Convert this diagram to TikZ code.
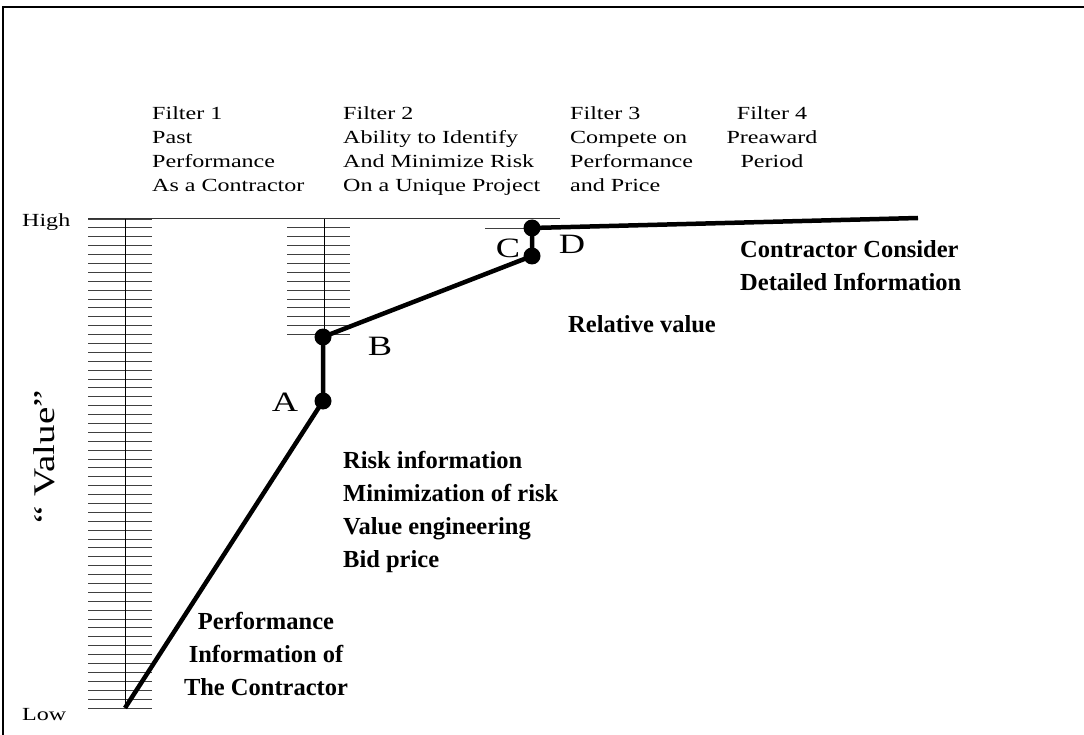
\documentclass[tikz,border=0pt]{standalone}
\usepackage{fontspec}
\setmainfont{Liberation Serif}
\newfontfamily\widefont[FakeStretch=1.3]{Liberation Serif}
\usepackage{tikz}

\begin{document}
\begin{tikzpicture}[x=1pt,y=-1pt,
    hatch/.style={black!75, line width=0.9pt},
    curve/.style={line width=4.5pt, line join=round},
    dot/.style={circle, fill, inner sep=0pt, minimum size=17pt},
    filtertext/.style={inner sep=0pt, align=left, anchor=north west, font=\widefont\fontsize{18.5}{24}\selectfont},
    boldtext/.style={inner sep=0pt, align=left, anchor=north west, font=\bfseries\fontsize{24.5}{33}\selectfont},
    pointlabel/.style={inner sep=0pt, font=\widefont\fontsize{28}{30}\selectfont}]
          \useasboundingbox (0,0) rectangle (1084,735);
          \draw[line width=2pt] (3,735) -- (3,7) -- (1084,7);
          % value scales
          \foreach \k in {0,...,55}
                \draw[hatch] (88,{219+8.89*\k}) -- (152,{219+8.89*\k});
          \foreach \k in {1,...,13}
                \draw[hatch] (287,{219+8.89*\k}) -- (350,{219+8.89*\k});
          \draw[hatch] (485,228) -- (532,228);
          \draw[black!80, line width=1pt] (88,219) -- (560,219);
          \draw[black, line width=1pt] (125,219) -- (125,708)
                (324,219) -- (324,337);
          \node[filtertext] (high) at (22,213) {High};
          \node[filtertext] (low) at (22,708) {Low};
          \node[pointlabel, rotate=90, font=\widefont\fontsize{30}{32}\selectfont] (value) at (44,457) {“ Value”};
          % filters
          \node[filtertext] (filter1) at (152,106) {Filter 1\\Past\\Performance\\As a Contractor};
          \node[filtertext] (filter2) at (343,106) {Filter 2\\Ability to Identify\\And Minimize Risk\\On a Unique Project};
          \node[filtertext] (filter3) at (570,106) {Filter 3\\Compete on\\Performance\\and Price};
          \node[filtertext, align=center, anchor=north] (filter4) at (772,106) {Filter 4\\Preaward\\Period};
          % value line
          \coordinate (start) at (125,708);
          \node[dot] (A) at (323,401) {};
          \node[dot] (B) at (323,337) {};
          \node[dot] (C) at (532,256) {};
          \node[dot] (D) at (532,228) {};
          \coordinate (end) at (918,218);
          \draw[curve] (start) -- (A.center) -- (B.center) -- (C.center) -- (D.center) -- (end);
          \node[pointlabel] (labA) at (285,402) {A};
          \node[pointlabel] (labB) at (380,346) {B};
          \node[pointlabel] (labC) at (508,248) {C};
          \node[pointlabel] (labD) at (572,244) {D};
          \node[boldtext] (detail) at (740,240) {Contractor Consider\\Detailed Information};
          \node[boldtext] (relative) at (568,315) {Relative value};
          \node[boldtext] (risk) at (343,451) {Risk information\\Minimization of risk\\Value engineering\\Bid price};
          \node[boldtext, align=center, anchor=north] (perf) at (266,612) {Performance\\Information of\\The Contractor};
        \end{tikzpicture}
\end{document}
